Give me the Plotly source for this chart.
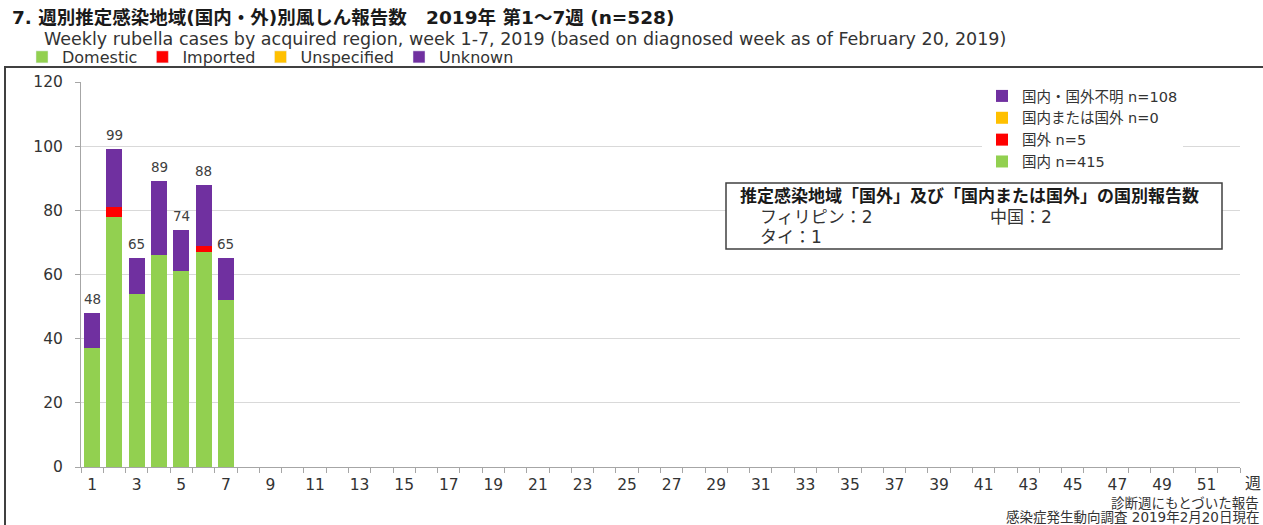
import plotly.graph_objects as go

weeks = list(range(1, 53))
data_weeks = [1, 2, 3, 4, 5, 6, 7]
domestic = [37, 78, 54, 66, 61, 67, 52]
imported = [0, 3, 0, 0, 0, 2, 0]
unspecified = [0, 0, 0, 0, 0, 0, 0]
unknown = [11, 18, 11, 23, 13, 19, 13]
totals = [d + i + s + u for d, i, s, u in zip(domestic, imported, unspecified, unknown)]

series_jp = ["国内 n=415", "国外 n=5", "国内または国外 n=0", "国内・国外不明 n=108"]
series_en = ["Domestic", "Imported", "Unspecified", "Unknown"]
colors = ["#92D050", "#FF0000", "#FFC000", "#7030A0"]
tick_weeks = list(range(1, 52, 2))

FONT = "DejaVu Sans, Noto Sans CJK JP, sans-serif"
TXT = "#333333"

W, H = 1263, 525
L, R, T, B = 81, 23, 82, 58
PW, PH = W - L - R, H - T - B


def px(xp):
    return (xp - L) / PW


def py(yp):
    return (H - B - yp) / PH


fig = go.Figure()
for vals, name, col in zip([domestic, imported, unspecified, unknown], series_jp, colors):
    fig.add_trace(go.Bar(x=data_weeks, y=vals, name=name, marker=dict(color=col, line=dict(width=0)),
                         width=0.72, legend="legend", hoverinfo="y+name"))
for name, col in zip(series_en, colors):
    fig.add_trace(go.Bar(x=[None], y=[None], name=name, marker=dict(color=col), legend="legend2",
                         showlegend=True))

for w, t in zip(data_weeks, totals):
    fig.add_annotation(x=w, y=t, text=str(t), showarrow=False, yshift=14, yanchor="middle",
                       font=dict(size=13.5, color="#404040", family=FONT))

fig.update_layout(
    barmode="stack",
    width=W, height=H,
    margin=dict(l=L, r=R, t=T, b=B, autoexpand=False),
    paper_bgcolor="white", plot_bgcolor="white",
    font=dict(family=FONT, color=TXT, size=12),
    legend=dict(x=px(982), xanchor="left", y=py(80), yanchor="top", traceorder="reversed",
                bgcolor="white", font=dict(size=14.5, color=TXT, family=FONT),
                tracegroupgap=0, itemsizing="constant"),
    legend2=dict(orientation="h", x=px(22), xanchor="left", y=py(57), yanchor="middle",
                 traceorder="normal", bgcolor="rgba(0,0,0,0)",
                 font=dict(size=16, color=TXT, family=FONT)),
)
fig.update_xaxes(range=[0.5, 52.5], tickmode="array", tickvals=tick_weeks,
                 ticktext=[str(w) for w in tick_weeks], ticks="", showgrid=False,
                 showline=True, linecolor="#A6A6A6", linewidth=1, zeroline=False,
                 tickfont=dict(size=15.5, color=TXT), ticklabelstandoff=3,
                 minor=dict(tickmode="linear", tick0=0.5, dtick=1, ticks="outside", ticklen=5,
                            tickcolor="#A6A6A6", showgrid=False))
fig.update_yaxes(range=[0, 120], dtick=20, showgrid=True, gridcolor="#D9D9D9", gridwidth=1,
                 showline=True, linecolor="#A6A6A6", ticks="outside", ticklen=5, tickcolor="#A6A6A6",
                 zeroline=False, tickfont=dict(size=15.5, color=TXT), ticklabelstandoff=9)

# outer frame
fig.add_shape(type="rect", xref="paper", yref="paper", x0=px(5), x1=px(1275), y0=py(540), y1=py(67),
              line=dict(color="#404040", width=2), fillcolor="rgba(0,0,0,0)", layer="below")

# titles
fig.add_annotation(xref="paper", yref="paper", x=px(10), y=py(17), xanchor="left", yanchor="middle",
                   text="<b>7. 週別推定感染地域(国内・外)別風しん報告数&nbsp;&nbsp;&nbsp;2019年 第1～7週 (n=528)</b>",
                   showarrow=False, font=dict(size=18.5, color="#1a1a1a", family=FONT))
fig.add_annotation(xref="paper", yref="paper", x=px(42), y=py(39), xanchor="left", yanchor="middle",
                   text="Weekly rubella cases by acquired region, week 1-7, 2019 (based on diagnosed week as of February 20, 2019)",
                   showarrow=False, font=dict(size=17.5, color=TXT, family=FONT))

# country box
fig.add_shape(type="rect", xref="paper", yref="paper", x0=px(726), x1=px(1222),
              y0=py(249), y1=py(183), line=dict(color="#404040", width=1.5), fillcolor="white")
fig.add_annotation(xref="paper", yref="paper", x=px(738), y=py(196), xanchor="left",
                   yanchor="middle", showarrow=False,
                   text="<b>推定感染地域「国外」及び「国内または国外」の国別報告数</b>",
                   font=dict(size=17, color="#1a1a1a", family=FONT))
fig.add_annotation(xref="paper", yref="paper", x=px(758), y=py(217), xanchor="left",
                   yanchor="middle", showarrow=False, text="フィリピン：2",
                   font=dict(size=17, color=TXT, family=FONT))
fig.add_annotation(xref="paper", yref="paper", x=px(988), y=py(217), xanchor="left",
                   yanchor="middle", showarrow=False, text="中国：2",
                   font=dict(size=17, color=TXT, family=FONT))
fig.add_annotation(xref="paper", yref="paper", x=px(758), y=py(237), xanchor="left",
                   yanchor="middle", showarrow=False, text="タイ：1",
                   font=dict(size=17, color=TXT, family=FONT))

# axis unit
fig.add_annotation(xref="paper", yref="paper", x=px(1253), y=py(484), xanchor="center",
                   yanchor="middle", showarrow=False, text="週", font=dict(size=16, color=TXT, family=FONT))
# footer
fig.add_annotation(xref="paper", yref="paper", x=px(1261), y=py(503), xanchor="right",
                   yanchor="middle", showarrow=False, text="診断週にもとづいた報告",
                   font=dict(size=13.5, color=TXT, family=FONT))
fig.add_annotation(xref="paper", yref="paper", x=px(1261), y=py(517), xanchor="right",
                   yanchor="middle", showarrow=False, text="感染症発生動向調査 2019年2月20日現在",
                   font=dict(size=13.5, color=TXT, family=FONT))

fig.write_html("out.html", config={"displayModeBar": False},
               post_script="document.body.style.margin='0';")
